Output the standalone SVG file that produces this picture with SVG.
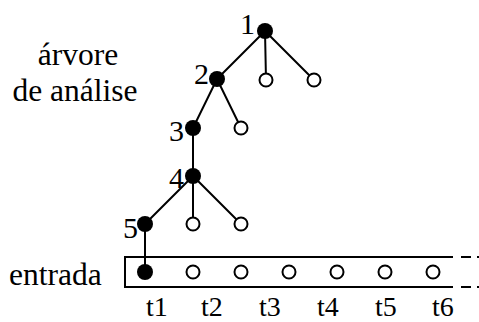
<svg xmlns="http://www.w3.org/2000/svg" width="479" height="322" viewBox="0 0 479 322">
  <style>
    text { font-family: "Liberation Serif", "Times New Roman", serif; fill: #000; }
    .lbl { font-size: 31.5px; }
    .num { font-size: 30px; text-anchor: end; }
    .tk { font-size: 28px; }
    .edge { stroke: #000; stroke-width: 2; fill: none; }
    .full { fill: #000; stroke: none; }
    .empty { fill: #fff; stroke: #000; stroke-width: 2; }
  </style>
  <rect width="479" height="322" fill="#fff"/>

  <text class="lbl" x="78" y="65" text-anchor="middle">árvore</text>
  <text class="lbl" x="75" y="101" text-anchor="middle">de análise</text>
  <text class="lbl" x="9" y="285">entrada</text>

  <!-- input tape -->
  <g id="tape">
    <path class="edge" d="M453,257 H125 V287 H453"/>
    <path class="edge" d="M461,257 H479 M461,287 H479" stroke-dasharray="10,6"/>
  </g>

  <g id="connectors">
    <path class="edge" d="M265,31 L217,79 M265,31 L266,80 M265,31 L314,80"/>
    <path class="edge" d="M217,79 L193,128 M217,79 L241,128"/>
    <path class="edge" d="M193,128 L193,176"/>
    <path class="edge" d="M193,176 L145,224 M193,176 L193,224 M193,176 L241,224"/>
    <path class="edge" d="M145,224 L145,272"/>
  </g>

  <g id="n1"><circle class="full" cx="265" cy="31" r="8"/><text class="num" x="255" y="34">1</text></g>
  <g id="n1b"><circle class="empty" cx="266" cy="80" r="6.5"/></g>
  <g id="n1c"><circle class="empty" cx="314" cy="80" r="6.5"/></g>
  <g id="n2"><circle class="full" cx="217" cy="79" r="8"/><text class="num" x="209" y="84">2</text></g>
  <g id="n2b"><circle class="empty" cx="241" cy="128" r="6.5"/></g>
  <g id="n3"><circle class="full" cx="193" cy="128" r="8"/><text class="num" x="184" y="141">3</text></g>
  <g id="n4"><circle class="full" cx="193" cy="176" r="8"/><text class="num" x="184" y="188">4</text></g>
  <g id="n4b"><circle class="empty" cx="193" cy="224" r="6.5"/></g>
  <g id="n4c"><circle class="empty" cx="241" cy="224" r="6.5"/></g>
  <g id="n5"><circle class="full" cx="145" cy="224" r="8"/><text class="num" x="138" y="238">5</text></g>

  <!-- tokens on the tape -->
  <g id="tok1"><circle class="full" cx="145" cy="272" r="8"/></g>
  <g id="tok2"><circle class="empty" cx="193" cy="272" r="6.5"/></g>
  <g id="tok3"><circle class="empty" cx="241" cy="272" r="6.5"/></g>
  <g id="tok4"><circle class="empty" cx="289" cy="272" r="6.5"/></g>
  <g id="tok5"><circle class="empty" cx="337" cy="272" r="6.5"/></g>
  <g id="tok6"><circle class="empty" cx="385" cy="272" r="6.5"/></g>
  <g id="tok7"><circle class="empty" cx="433" cy="272" r="6.5"/></g>

  <g id="ticks">
    <text class="tk" x="146" y="316">t1</text>
    <text class="tk" x="201" y="316">t2</text>
    <text class="tk" x="259" y="316">t3</text>
    <text class="tk" x="317" y="316">t4</text>
    <text class="tk" x="375" y="316">t5</text>
    <text class="tk" x="432" y="316">t6</text>
  </g>
</svg>
